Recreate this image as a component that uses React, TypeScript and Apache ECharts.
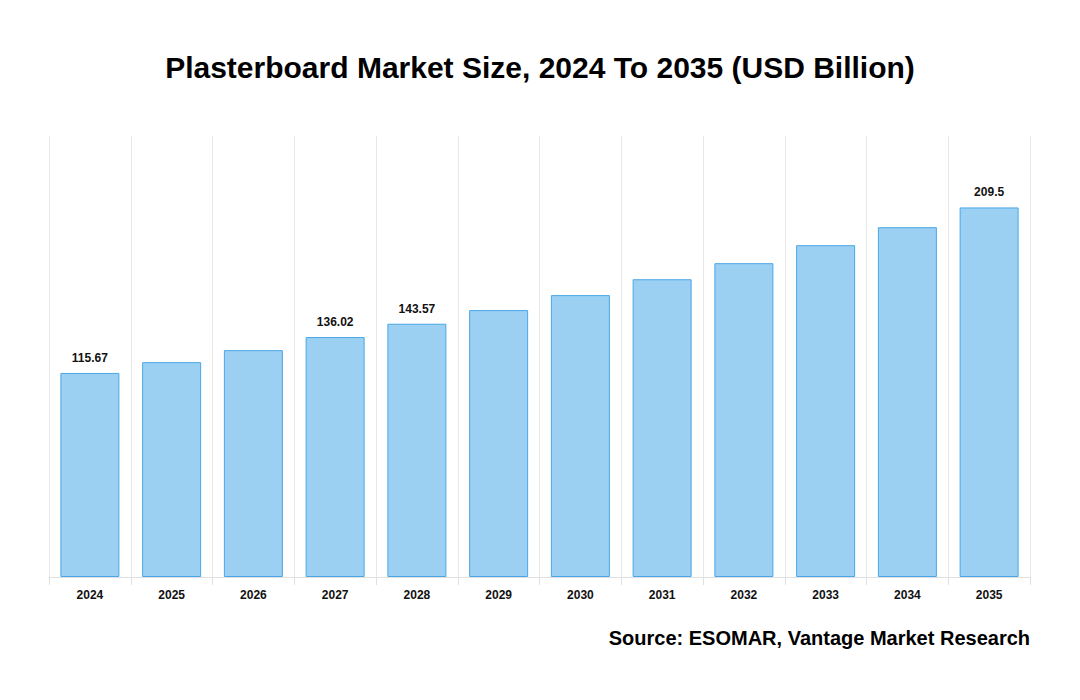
import React, { useEffect, useRef } from "react";
import * as echarts from "echarts";

const years = ["2024", "2025", "2026", "2027", "2028", "2029", "2030", "2031", "2032", "2033", "2034", "2035"];
const values = [115.67, 121.8, 128.6, 136.02, 143.57, 151.3, 159.8, 168.8, 177.9, 188.1, 198.3, 209.5];
const labelledYears = ["2024", "2027", "2028", "2035"];

export default function App() {
  const ref = useRef<HTMLDivElement>(null);
  useEffect(() => {
    document.body.style.margin = "0";
    const chart = echarts.init(ref.current!, null, { renderer: "svg" });
    chart.setOption({
      animation: false,
      backgroundColor: "#ffffff",
      title: {
        text: "Plasterboard Market Size, 2024 To 2035 (USD Billion)",
        left: "center",
        top: 47,
        textStyle: { fontFamily: "Liberation Sans, Arial, sans-serif", fontWeight: "bold", fontSize: 30, color: "#000" },
      },
      graphic: [
        {
          type: "text",
          right: 50,
          top: 628,
          style: {
            text: "Source: ESOMAR, Vantage Market Research",
            font: "bold 20px 'Liberation Sans', Arial, sans-serif",
            fill: "#000",
          },
        },
      ],
      grid: { left: 49, right: 50, top: 136, bottom: 123, containLabel: false },
      xAxis: {
        type: "category",
        data: years,
        axisLine: { show: true, lineStyle: { color: "#e0e0e0" } },
        axisTick: { show: true, length: 8, lineStyle: { color: "#e0e0e0" } },
        splitLine: { show: true, lineStyle: { color: "#e6e6e6" } },
        axisLabel: { fontFamily: "Liberation Sans, Arial, sans-serif", fontWeight: "bold", fontSize: 12, color: "#111", margin: 12 },
      },
      yAxis: {
        type: "value",
        min: 0,
        max: 250,
        show: false,
        splitLine: { show: false },
      },
      series: [
        {
          type: "bar",
          barWidth: 59,
          data: values.map((v, i) => ({
            value: v,
            label: { show: labelledYears.includes(years[i]) },
          })),
          itemStyle: { color: "#9bd0f3", borderColor: "#4aa6e6", borderWidth: 1 },
          label: {
            position: "top",
            distance: 9,
            fontFamily: "Liberation Sans, Arial, sans-serif",
            fontWeight: "bold",
            fontSize: 12,
            color: "#111",
          },
        },
      ],
    });
    return () => chart.dispose();
  }, []);
  return <div ref={ref} style={{ width: 1080, height: 700 }} />;
}
